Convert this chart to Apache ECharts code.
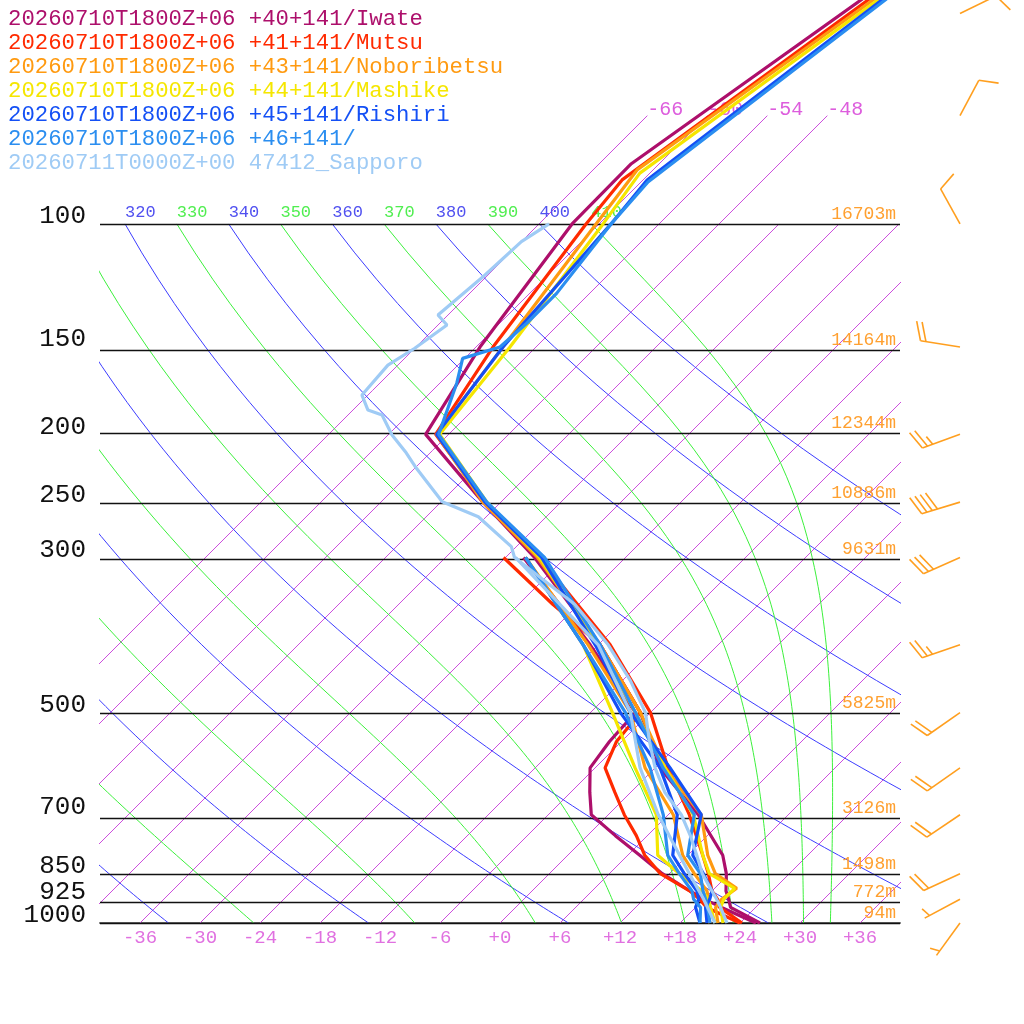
<!DOCTYPE html>
<html><head><meta charset="utf-8">
<script src="https://cdn.jsdelivr.net/npm/echarts@6/dist/echarts.min.js"></script>
<style>html,body{margin:0;padding:0;background:#fff}#c{width:1024px;height:1024px}</style>
</head><body><div id="c"></div>
<script>
// ---------------- data ----------------
const pressureLevels = [100,150,200,250,300,500,700,850,925,1000];
const pressureLabels = ['100','150','200','250','300','500','700','850','925','1000'];
const heightLabels = ['16703m','14164m','12344m','10886m','9631m','5825m','3126m','1498m','772m','94m'];
const tempTicks = [-36,-30,-24,-18,-12,-6,0,6,12,18,24,30,36];
const isotherms = [-66,-60,-54,-48,-42,-36,-30,-24,-18,-12,-6,0,6,12,18,24,30,36];
const isothermsLabelled = [-66,-60,-54,-48];
const dryThetas = [240,260,280,300,320,340,360,380,400];
const dryThetaLabels = [320,340,360,380,400];
const moistThetas = [250,270,290,310,330,350,370,390,410];
const moistThetaLabels = [330,350,370,390,410];

const windLevels = [1000,925,850,700,600,500,400,300,250,200,150,100,70,50];
const windDir    = [216,242,245,236,235,235,251,246,253,250,279,331,28,64];
const windSpeed  = [5,5,20,20,20,20,25,30,40,25,20,10,10,10];

const names = [
 '20260710T1800Z+06 +40+141/Iwate',
 '20260710T1800Z+06 +41+141/Mutsu',
 '20260710T1800Z+06 +43+141/Noboribetsu',
 '20260710T1800Z+06 +44+141/Mashike',
 '20260710T1800Z+06 +45+141/Rishiri',
 '20260710T1800Z+06 +46+141/',
 '20260711T0000Z+00 47412_Sapporo'
];
const colors = ['#ad0f6b','#ff2a00','#ff9a10','#f5e600','#1450f5','#2b8ef0','#9fcbf5'];

// [pressure hPa, temperature C]
const iwateT = [[1000,26.0],[950,21.5],[925,20.5],[900,19.4],[850,17.7],[800,15.5],[700,9.0],[600,0.5],[500,-7.0],[400,-17.8],[300,-33.1],[250,-43.8],[200,-56.3],[150,-59.6],[100,-62.7],[82,-62.8],[30,-50.5]];
const iwateTd = [[1000,25.6],[950,20.6],[925,18.1],[900,15.8],[850,11.3],[800,7.2],[750,2.8],[700,-1.7],[650,-4.1],[600,-6.5],[550,-7.2],[500,-7.5],[400,-18.8],[300,-34.2]];
const mutsuT = [[1000,24.2],[950,20.4],[925,19.4],[900,18.0],[850,15.9],[800,13.5],[700,8.1],[600,1.3],[500,-6.0],[400,-16.8],[300,-32.6],[250,-43.6],[200,-55.3],[150,-58.3],[100,-61.3],[86.5,-62.1],[30,-50.3]];
const mutsuTd = [[1000,24.0],[950,19.1],[925,17.6],[900,15.8],[850,11.1],[800,7.7],[750,4.9],[700,1.6],[650,-1.6],[600,-5.0],[550,-6.5],[500,-7.0],[400,-17.8],[350,-26.6],[300,-36.2]];
const noboriT = [[1000,21.8],[950,20.0],[925,19.8],[892,20.2],[850,16.6],[800,14.0],[700,9.3],[600,1.0],[500,-7.0],[400,-17.8],[300,-32.8],[250,-43.8],[200,-55.2],[150,-57.3],[100,-60.3],[83.7,-61.6],[30,-49.5]];
const noboriTd = [[1000,21.0],[950,19.0],[925,18.5],[900,17.5],[850,14.5],[800,11.5],[700,6.5],[600,-1.0],[500,-8.0],[400,-19.0],[300,-34.0]];
const mashikeT = [[1000,22.3],[950,20.5],[925,20.0],[892,20.0],[850,16.0],[800,13.5],[700,8.5],[600,1.0],[500,-7.5],[400,-18.0],[300,-32.6],[250,-43.4],[200,-54.9],[150,-56.6],[100,-59.6],[84.6,-61.0],[30,-49.2]];
const mashikeTd = [[1000,21.5],[950,19.5],[925,18.5],[900,17.0],[850,13.0],[800,9.0],[700,4.8],[600,-2.0],[500,-9.8],[400,-19.5],[300,-34.0]];
const rishiriT = [[1000,20.7],[950,19.0],[925,18.6],[900,18.0],[850,15.4],[800,12.5],[700,9.3],[600,1.5],[500,-8.0],[400,-18.3],[300,-32.4],[250,-43.6],[200,-55.2],[150,-57.3],[100,-58.8],[86.5,-59.6],[30,-49.8]];
const rishiriTd = [[1000,20.0],[950,18.0],[925,17.5],[900,16.5],[850,13.5],[800,10.5],[700,6.9],[600,0.5],[500,-9.0],[400,-19.5],[300,-34.0]];
const p46T = [[1000,21.0],[950,19.2],[925,18.2],[900,17.1],[850,15.1],[800,12.0],[700,8.6],[600,0.8],[500,-7.5],[400,-17.8],[300,-32.1],[250,-43.4],[200,-55.0],[169,-58.3],[155.7,-60.2],[150,-57.6],[138.7,-57.3],[125.7,-57.3],[100,-58.8],[87.1,-59.3],[30,-49.5]];
const p46Td = [[1000,20.0],[950,18.5],[925,17.0],[900,16.0],[850,13.0],[800,10.0],[700,5.5],[600,-0.5],[500,-8.5],[400,-19.5],[300,-34.0]];
const sapporoT = [[1000,22.7],[950,20.5],[925,19.3],[900,18.0],[850,15.3],[800,12.9],[750,10.3],[700,7.3],[650,3.4],[600,0.0],[550,-3.2],[500,-6.5],[450,-11.2],[400,-17.0],[350,-24.4],[300,-35.1],[289.5,-36.5],[262.3,-42.8],[249.7,-47.9],[222.5,-54.1],[211.7,-56.6],[200.4,-59.6],[187.6,-62.6],[184.6,-64.5],[175.7,-66.6],[159.2,-67.0],[150.6,-66.0],[139.5,-65.1],[135,-67.0],[118.3,-66.3],[106,-66.0],[100,-65.0]];
const sapporoTd = [[1000,21.5],[925,18.0],[850,14.0],[700,5.0],[600,-1.5],[500,-8.0],[400,-18.0],[300,-35.0]];

const profilesT  = [iwateT, mutsuT, noboriT, mashikeT, rishiriT, p46T, sapporoT];
const profilesTd = [iwateTd, mutsuTd, noboriTd, mashikeTd, rishiriTd, p46Td, sapporoTd];

// ---------------- geometry helpers ----------------
const FONT = '"Liberation Mono","DejaVu Sans Mono",monospace';
const Y_MIN = 3 - 923/699.07;      // log10 of top pressure
const SKEW = 69.907;               // x-units per decade of pressure (45 deg)
const KAPPA = 0.2857;
const X_MIN = -40, X_MAX = 40;
const lg = p => Math.log10(p);
const skewX = (p, t) => t + SKEW*(3 - lg(p));
const pt = (p, t) => [skewX(p, t), lg(p)];

function dryLine(theta){
  const out=[];
  for(let p=1000;p>=100;p-=10){ out.push(pt(p, theta*Math.pow(p/1000,KAPPA)-273.15)); }
  return out;
}
function moistLine(theta){
  const Rd=287.04, cp=1005.7, Lv=2.501e6, eps=0.622;
  const f=(p,T)=>{const tc=T-273.15; const es=6.112*Math.exp(17.67*tc/(tc+243.5)); const rs=eps*es/(p-es);
    return (Rd*T+Lv*rs)/p/(cp+Lv*Lv*rs*eps/(Rd*T*T));};
  let p=100, T=theta*Math.pow(p/1000,KAPPA);
  const out=[pt(p,T-273.15)]; const dp=2; let n=0;
  while(p<1000){
    const k1=f(p,T),k2=f(p+dp/2,T+dp/2*k1),k3=f(p+dp/2,T+dp/2*k2),k4=f(p+dp,T+dp*k3);
    T+=dp/6*(k1+2*k2+2*k3+k4); p+=dp; n++;
    if(n%5===0) out.push(pt(p,T-273.15));
  }
  return out;
}

const series=[];
const bg = (data,color,z)=>({type:'line',data,symbol:'none',silent:true,clip:true,z:z||1,animation:false,
  lineStyle:{color,width:1},emphasis:{disabled:true}});

isotherms.forEach(t=>{
  const top = isothermsLabelled.includes(t) ? 70 : 100;
  series.push(bg([pt(1000,t),pt(top,t)],'#cc4ddd'));
});
dryThetas.forEach(th=>series.push(bg(dryLine(th),'#3c3cff')));
moistThetas.forEach(th=>series.push(bg(moistLine(th),'#3cf03c')));

// labels
const lblSeries=(data,color,size,dy,pos,dist)=>({type:'scatter',data,symbolSize:0,silent:true,z:2,animation:false,clip:false,
  itemStyle:{opacity:1},
  label:{show:true,position:pos||'right',distance:dist||0,offset:[0,dy],color,opacity:1,fontSize:size,fontFamily:FONT,formatter:p=>p.value[2]}});
series.push(lblSeries(isothermsLabelled.map(t=>[skewX(70,t),lg(70),String(t)]),'#dd5ddd',20,-6));
series.push(lblSeries(dryThetaLabels.map(th=>[skewX(100,th*Math.pow(0.1,KAPPA)-273.15),2,String(th)]),'#5050f0',17,-11));
series.push(lblSeries(moistThetaLabels.map(th=>[skewX(100,th*Math.pow(0.1,KAPPA)-273.15),2,String(th)]),'#50ee50',17,-11));
// pressure level labels (left side)
series.push(lblSeries(pressureLevels.map((p,i)=>[X_MIN,lg(p),pressureLabels[i]]),'#111',26,-7.5,'left',14));

// pressure lines + heights
series.push({type:'line',data:[[X_MIN,3]],symbol:'none',silent:true,z:3,animation:false,lineStyle:{opacity:0},
  markLine:{silent:true,symbol:['none','none'],animation:false,
    lineStyle:{color:'#111',width:1.4,type:'solid'},
    label:{show:true,position:'insideEndTop',distance:[4,1],color:'#ffa030',fontSize:18,fontFamily:FONT},
    data:pressureLevels.map((p,i)=>({yAxis:lg(p),label:{formatter:heightLabels[i]}}))}});

// profiles
names.forEach((nm,i)=>{
  const w = 3.2;
  series.push({name:nm,type:'line',data:profilesTd[i].map(d=>pt(d[0],d[1])),symbol:'none',z:5,animation:false,clip:true,
    lineStyle:{color:colors[i],width:w},itemStyle:{color:colors[i]}});
  series.push({name:nm,type:'line',data:profilesT[i].map(d=>pt(d[0],d[1])),symbol:'none',z:5,animation:false,clip:true,
    lineStyle:{color:colors[i],width:w},itemStyle:{color:colors[i]}});
});

// wind barbs
series.push({type:'custom',coordinateSystem:'cartesian2d',clip:false,silent:true,z:6,animation:false,
  data:windLevels.map((p,i)=>[46,lg(p),windDir[i],windSpeed[i]]),
  renderItem:(params,api)=>{
    const b=api.coord([api.value(0),api.value(1)]);
    const d=api.value(2)*Math.PI/180, s=api.value(3);
    const ux=Math.sin(d), uy=-Math.cos(d), L=40;
    const tip=[b[0]+ux*L,b[1]+uy*L];
    const nx=-uy, ny=ux, a=70*Math.PI/180;
    const bx=Math.cos(a)*ux+Math.sin(a)*nx, by=Math.cos(a)*uy+Math.sin(a)*ny;
    const st={stroke:'#ff9f1f',lineWidth:1.6};
    const ch=[{type:'line',shape:{x1:b[0],y1:b[1],x2:tip[0],y2:tip[1]},style:st}];
    let rem=s, k=0; const step=5.5;
    if(rem<10) k=1;
    while(rem>=10){const x0=tip[0]-ux*step*k,y0=tip[1]-uy*step*k;
      ch.push({type:'line',shape:{x1:x0,y1:y0,x2:x0+bx*20,y2:y0+by*20},style:st}); k++; rem-=10;}
    if(rem>=5){const x0=tip[0]-ux*step*k,y0=tip[1]-uy*step*k;
      ch.push({type:'line',shape:{x1:x0,y1:y0,x2:x0+bx*10,y2:y0+by*10},style:st});}
    return {type:'group',children:ch};
  }});

const option={
  animation:false,
  backgroundColor:'#ffffff',
  grid:{left:100,right:124,top:0,bottom:101,containLabel:false},
  legend:{data:names.map((n,i)=>({name:n,textStyle:{color:colors[i]}})),orient:'vertical',left:-2,top:2,
    icon:'none',itemWidth:0,itemHeight:24,itemGap:0,selectedMode:false,
    textStyle:{fontFamily:FONT,fontSize:22.3,lineHeight:24}},
  xAxis:{type:'value',min:X_MIN,max:X_MAX,
    axisLine:{show:true,onZero:false,lineStyle:{color:'#666',width:2}},
    axisTick:{show:false},splitLine:{show:false},
    axisLabel:{customValues:tempTicks,formatter:v=>(v>=0?'+':'')+v,color:'#e070e0',fontSize:19,fontFamily:FONT,margin:5,
      showMinLabel:true,showMaxLabel:true}},
  yAxis:{type:'value',inverse:true,min:Y_MIN,max:3,
    axisLine:{show:false},axisTick:{show:false},splitLine:{show:false},axisLabel:{show:false}},
  series
};
const chart=echarts.init(document.getElementById('c'));
chart.setOption(option);
</script></body></html>
